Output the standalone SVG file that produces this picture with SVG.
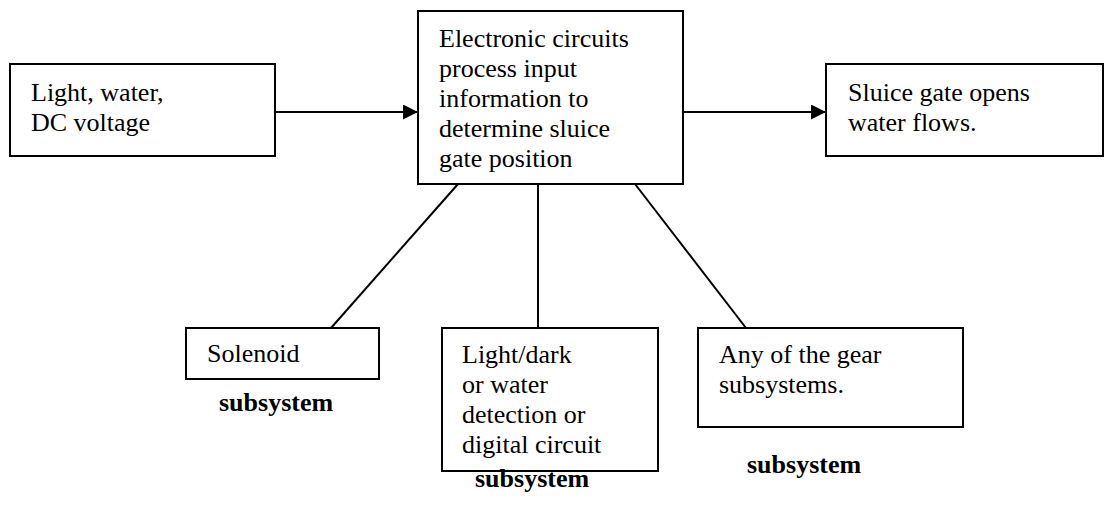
<svg xmlns="http://www.w3.org/2000/svg" width="1104" height="506" viewBox="0 0 1104 506">
<style>
  .box { fill: #ffffff; stroke: #000000; stroke-width: 2; }
  .t { font-family: "Liberation Serif", "Times New Roman", serif; font-size: 26px; fill: #000000; }
  .b { font-family: "Liberation Serif", "Times New Roman", serif; font-size: 26px; font-weight: bold; fill: #000000; }
  .line { stroke: #000000; stroke-width: 2; fill: none; }
</style>
<defs>
  <marker id="arrow" markerWidth="16" markerHeight="16" refX="15" refY="7.5" orientation="auto" orient="auto" markerUnits="userSpaceOnUse">
    <path d="M0,0 L15,7.5 L0,15 Z" fill="#000000"/>
  </marker>
</defs>
<rect width="1104" height="506" fill="#ffffff"/>
<g id="connectors">
  <line class="line" x1="275" y1="112" x2="418" y2="112" marker-end="url(#arrow)"/>
  <line class="line" x1="683" y1="112" x2="826" y2="112" marker-end="url(#arrow)"/>
  <line class="line" x1="458" y1="184" x2="331" y2="328"/>
  <line class="line" x1="538" y1="184" x2="538" y2="328"/>
  <line class="line" x1="635" y1="184" x2="746" y2="328"/>
</g>
<g id="input">
  <rect class="box" x="10" y="64" width="265" height="92"/>
  <text class="t" x="31" y="101">Light, water,</text>
  <text class="t" x="31" y="131">DC voltage</text>
</g>
<g id="processor">
  <rect class="box" x="418" y="11" width="265" height="173"/>
  <text class="t" x="439" y="47">Electronic circuits</text>
  <text class="t" x="439" y="77">process input</text>
  <text class="t" x="439" y="107">information to</text>
  <text class="t" x="439" y="137">determine sluice</text>
  <text class="t" x="439" y="167">gate position</text>
</g>
<g id="output">
  <rect class="box" x="826" y="64" width="277" height="92"/>
  <text class="t" x="848" y="101">Sluice gate opens</text>
  <text class="t" x="848" y="131">water flows.</text>
</g>
<g id="solenoid">
  <rect class="box" x="186" y="328" width="193" height="51"/>
  <text class="t" x="207" y="362">Solenoid</text>
  <text class="b" x="219" y="411">subsystem</text>
</g>
<g id="detection">
  <rect class="box" x="442" y="328" width="216" height="143"/>
  <text class="t" x="462" y="363">Light/dark</text>
  <text class="t" x="462" y="393">or water</text>
  <text class="t" x="462" y="423">detection or</text>
  <text class="t" x="462" y="453">digital circuit</text>
  <text class="b" x="475" y="487">subsystem</text>
</g>
<g id="gear">
  <rect class="box" x="698" y="328" width="265" height="99"/>
  <text class="t" x="719" y="363">Any of the gear</text>
  <text class="t" x="719" y="393">subsystems.</text>
  <text class="b" x="747" y="473">subsystem</text>
</g>
</svg>
